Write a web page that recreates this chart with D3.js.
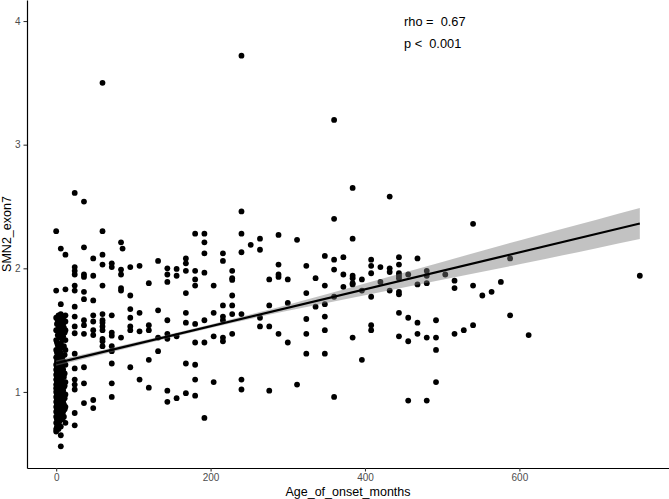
<!DOCTYPE html>
<html><head><meta charset="utf-8">
<script src="https://cdn.jsdelivr.net/npm/d3@7"></script>
<style>
body{margin:0;background:#fff}
svg{display:block}
text{font-family:"Liberation Sans",Arial,Helvetica,sans-serif}
</style>
</head><body>
<svg id="chart" width="669" height="499"></svg>
<script>
// ---- data ----
const infantMonths = [0,1,2,3,4,5,6,7,8,9,10,11,12];
const infantValues = [
  [2.30,1.82,0.68,0.70,0.75,0.80,0.84,0.88,0.92,0.96,1.00,1.03,1.06,1.10,1.14,1.18,1.22,1.28,1.34,1.42,1.50,1.60],
  [0.72,0.78,0.86,0.90,0.94,0.98,1.02,1.08,1.12,1.16,1.20,1.25,1.32,1.40,1.55],
  [0.74,0.82,0.88,0.93,0.99,1.04,1.09,1.13,1.19,1.24,1.30,1.38,1.46,1.58],
  [0.70,0.77,0.85,0.91,0.97,1.01,1.05,1.11,1.15,1.21,1.27,1.35,1.52,1.62],
  [0.76,0.83,0.89,0.95,1.00,1.07,1.12,1.17,1.23,1.29,1.44,1.56],
  [0.80,0.87,0.92,0.98,1.03,1.08,1.14,1.20,1.26,1.33,1.48,1.60],
  [2.16,1.71,0.56,0.65,0.72,0.79,0.86,0.93,0.99,1.05,1.10,1.16,1.22,1.31,1.39,1.47,1.54,1.63],
  [0.82,0.90,0.96,1.02,1.09,1.15,1.21,1.36,1.50],
  [0.78,0.88,0.94,1.00,1.06,1.13,1.19,1.28,1.42,1.58],
  [0.84,0.92,1.01,1.07,1.18,1.25,1.45,1.55],
  [0.80,0.90,0.97,1.04,1.12,1.24,1.37,1.52,1.61],
  [0.86,0.95,1.05,1.15,1.30,1.48],
  [2.11,1.83,0.75,0.88,0.98,1.08,1.22,1.34,1.42,1.50,1.57,1.62]
];
const onsetMonths = [24,36,48,60,72,84,86,96,108,120,132,144,156,168,180,192,204,216,228,240,252,264,276,288,300,312,324,336,348,360,372,384,396,408,420,432,444,456,468,480,492,504,516,528,540,552,564,576,588,612,756];
const onsetValues = [
  [2.61,2.01,1.98,1.95,1.86,1.82,1.69,1.61,1.53,1.475,1.31,1.19,1.10,1.06,1.02,0.83,0.73],
  [2.54,2.17,1.95,1.93,1.81,1.75,1.58,1.54,1.47,1.20,1.07,0.91],
  [2.08,1.94,1.74,1.62,1.57,1.50,1.46,0.935,0.87],
  [3.50,2.30,2.11,2.03,1.86,1.63,1.58,1.56,1.53,1.50,1.43,1.41,1.37],
  [2.04,2.01,1.62,1.48,1.455,1.37,1.33,1.23,1.07,0.96],
  [2.21,1.99,1.95,1.84,1.82,1.44],
  [2.16],
  [2.01,1.78,1.67,1.60,1.53,1.50,1.20],
  [2.02,1.64,1.49,1.10],
  [1.88,1.54,1.50,1.26,1.035],
  [2.06,1.66,1.44,1.33],
  [2.00,1.95,1.89,1.58,1.47,1.43,1.01,0.92],
  [1.995,1.94,1.45,0.95],
  [2.08,2.04,1.98,1.80,1.64,1.56,1.23,0.99],
  [2.28,1.98,1.91,1.86,1.55,1.40,1.22,1.10,0.97],
  [2.28,2.21,2.12,1.965,1.58,1.40,0.79],
  [1.86,1.64,1.45,1.08],
  [2.12,2.06,1.70,1.61,1.58,1.44,1.41],
  [1.98,1.92,1.906,1.78,1.70,1.63,1.47],
  [3.72,2.46,2.28,2.13,1.63,1.10,1.02],
  [2.19],
  [2.24,2.15,1.60,1.53],
  [1.91,1.70,1.53,1.01],
  [2.27,2.03,1.95,1.93,1.47],
  [1.91,1.72,1.40],
  [2.23,1.06],
  [2.02,1.80,1.59,1.47,1.31],
  [1.92,1.69],
  [2.10,1.86,1.71,1.61,1.50,1.31],
  [3.20,2.40,2.07,1.99,1.77,0.96],
  [2.09,1.95,1.85],
  [2.65,2.24,1.94,1.92,1.88,1.87,1.44],
  [1.91,1.82,1.26],
  [2.07,2.02,1.96,1.77,1.54,1.50],
  [2.01,1.89],
  [2.58,2.00,1.97,1.82],
  [2.09,2.03,1.96,1.94,1.92,1.81,1.79,1.64,1.45],
  [1.95,1.60,1.41,0.93],
  [2.08,1.87,1.56,1.47],
  [1.98,1.94,1.88,1.44,0.93],
  [1.58,1.44,1.34,1.08],
  [1.95],
  [1.90,1.84,1.47],
  [1.50],
  [2.36,1.86,1.54],
  [1.78],
  [1.81],
  [1.89],
  [2.08,1.62],
  [1.46],
  [1.94]
];
const fitX = [0, 756];
const fitY = [1.233, 2.362];
const bandX    = [0,     100,   200,   300,   400,   500,   600,   700,   756];
const bandLow  = [1.211, 1.366, 1.518, 1.656, 1.782, 1.908, 2.033, 2.163, 2.237];
const bandHigh = [1.255, 1.398, 1.546, 1.706, 1.878, 2.052, 2.225, 2.393, 2.487];
const xTicks = [0, 200, 400, 600];
const yTicks = [1, 2, 3, 4];
const statLabels = ["rho =  0.67", "p <  0.001"];
const xTitle = "Age_of_onset_months";
const yTitle = "SMN2_exon7";

// ---- build ----
const points = [];
infantMonths.forEach((m, i) => infantValues[i].forEach(v => points.push([m, v])));
onsetMonths.forEach((m, i) => onsetValues[i].forEach(v => points.push([m, v])));

const svg = d3.select("#chart");
const W = 669, H = 499;
const left = 27, bottom = 468;
const x = d3.scaleLinear().domain([-37.8, 793.8]).range([left, W]);
const y = d3.scaleLinear().domain([0.385, 4.17]).range([bottom, 0]);

svg.append("rect").attr("width", W).attr("height", H).attr("fill", "#fff");

// points
svg.append("g").selectAll("circle").data(points).join("circle")
  .attr("cx", d => x(d[0])).attr("cy", d => y(d[1]))
  .attr("r", 2.9).attr("fill", "#000");

// confidence band
const band = bandX.map((bx, i) => ({x: bx, lo: bandLow[i], hi: bandHigh[i]}));
svg.append("path").datum(band)
  .attr("d", d3.area().x(d => x(d.x)).y0(d => y(d.lo)).y1(d => y(d.hi)).curve(d3.curveMonotoneX))
  .attr("fill", "#777").attr("fill-opacity", 0.45);

// fit line
svg.append("path").datum(fitX.map((fx, i) => [fx, fitY[i]]))
  .attr("d", d3.line().x(d => x(d[0])).y(d => y(d[1])))
  .attr("stroke", "#000").attr("stroke-width", 2.2).attr("fill", "none");

// axes
const gx = svg.append("g").attr("transform", `translate(0,${bottom})`)
  .call(d3.axisBottom(x).tickValues(xTicks).tickFormat(d3.format("d")).tickSize(3.5).tickSizeOuter(0).tickPadding(2));
const gy = svg.append("g").attr("transform", `translate(${left},0)`)
  .call(d3.axisLeft(y).tickValues(yTicks).tickFormat(d3.format("d")).tickSize(3.5).tickSizeOuter(0).tickPadding(3));
[gx, gy].forEach(g => {
  g.select(".domain").attr("stroke", "#000").attr("stroke-width", 1.2);
  g.selectAll(".tick line").attr("stroke", "#333").attr("stroke-width", 1.1);
  g.selectAll(".tick text").attr("fill", "#4d4d4d").style("font-size", "10px")
    .style("font-family", '"Liberation Sans",Arial,sans-serif');
});

// titles
svg.append("text").attr("x", (left + W) / 2).attr("y", 496)
  .attr("text-anchor", "middle").style("font-size", "12.5px").attr("fill", "#000").text(xTitle);
svg.append("text").attr("transform", `translate(11,${bottom / 2}) rotate(-90)`)
  .attr("text-anchor", "middle").style("font-size", "12.5px").attr("fill", "#000").text(yTitle);

// stats annotation
svg.selectAll("text.stat").data(statLabels).join("text").attr("class", "stat")
  .attr("x", 404).attr("y", (d, i) => 26 + i * 22)
  .style("font-size", "12.8px").style("white-space", "pre").attr("fill", "#000").text(d => d);
</script>
</body></html>
